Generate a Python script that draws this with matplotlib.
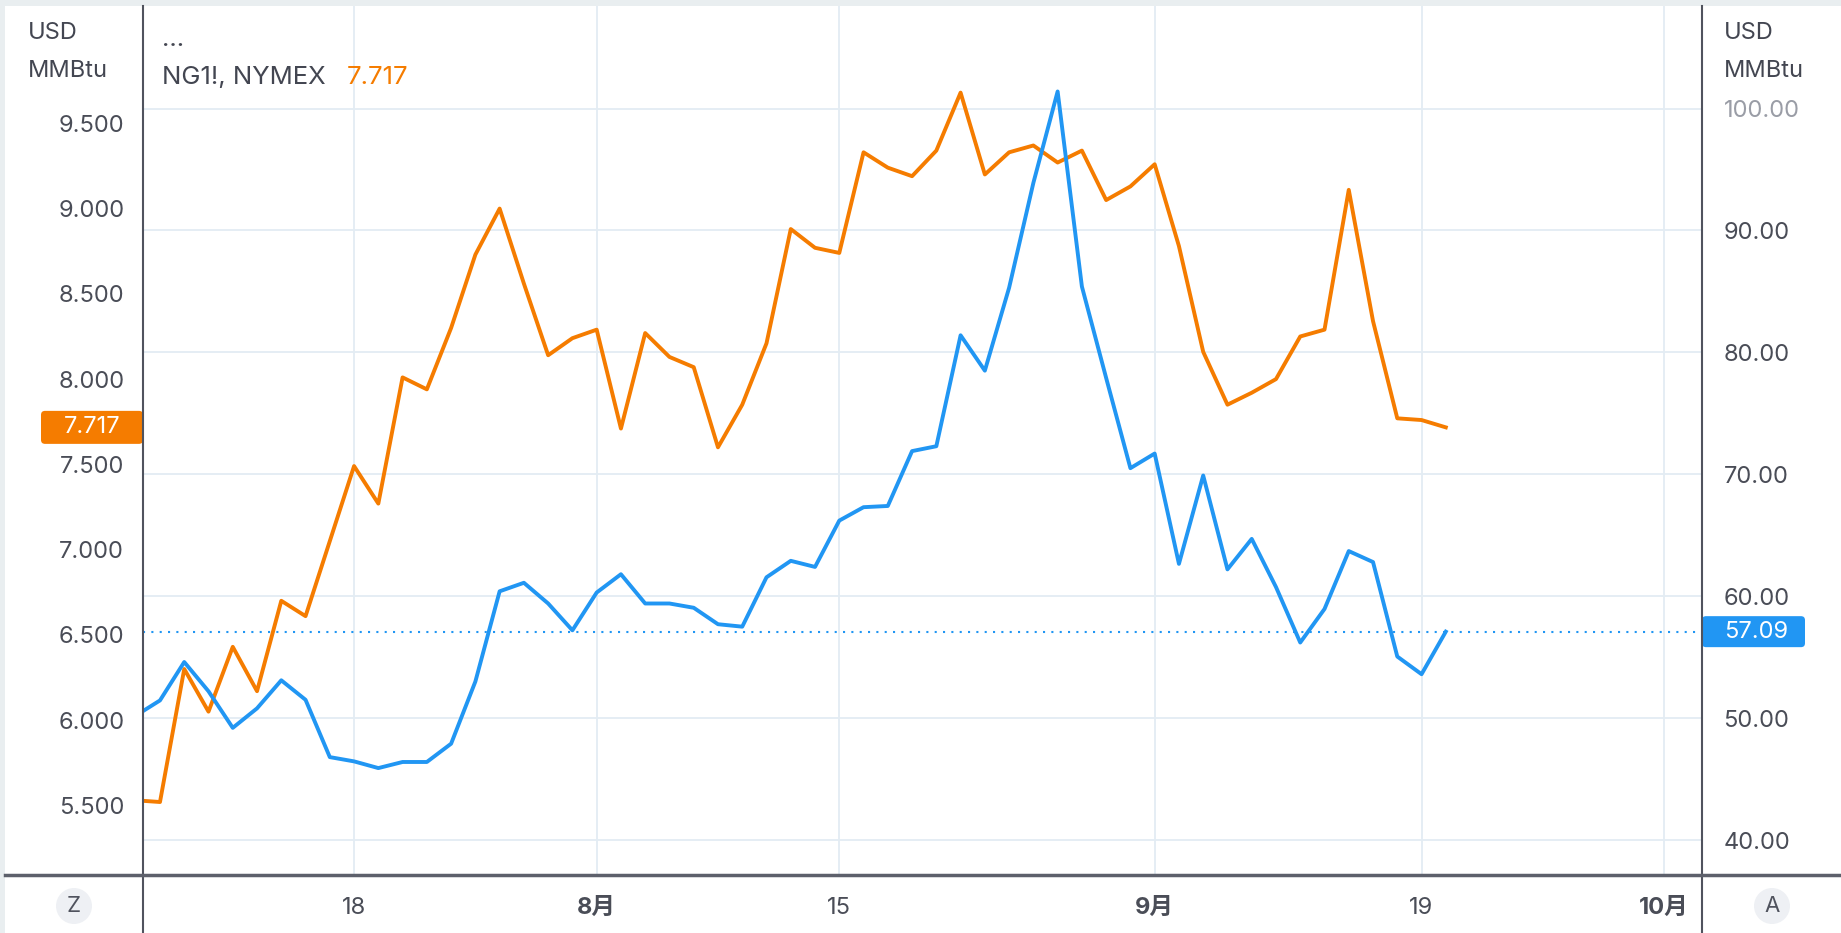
import matplotlib.pyplot as plt
import matplotlib.transforms as mtransforms
from matplotlib.patches import FancyBboxPatch, Rectangle, Circle
from matplotlib.lines import Line2D
import numpy as np
import pandas as pd

plt.rcParams['font.family'] = ['Inter', 'Noto Sans CJK SC']

# trading days (Labor Day off)
days = pd.bdate_range('2022-07-05', '2022-10-03')
days = days[days != pd.Timestamp('2022-09-05')]

# NG1!, NYMEX (left scale)
ng = [5.53, 5.52, 6.30, 6.05, 6.43, 6.17, 6.70, 6.61, 7.05,
      7.49, 7.27, 8.01, 7.94, 8.30, 8.73, 9.00, 8.56, 8.14, 8.24,
      8.29, 7.71, 8.27, 8.13, 8.07, 7.60, 7.85, 8.21, 8.88, 8.77,
      8.74, 9.33, 9.24, 9.19, 9.34, 9.68, 9.20, 9.33, 9.37, 9.27,
      9.34, 9.05, 9.13, 9.26, 8.78, 8.16, 7.85, 7.92, 8.00, 8.25,
      8.29, 9.11, 8.34, 7.77, 7.76, 7.717]
# second symbol (right scale)
cmp = [50.2, 51.45, 54.6, 52.2, 49.2, 50.8, 53.1, 51.5, 46.8,
       46.45, 45.9, 46.4, 46.4, 47.9, 53.0, 60.4, 61.1, 59.4, 57.2,
       60.3, 61.8, 59.4, 59.4, 59.05, 57.7, 57.5, 61.55, 62.9, 62.4,
       66.2, 67.3, 67.4, 71.9, 72.3, 81.4, 78.5, 85.3, 93.9, 101.4,
       85.4, 77.9, 70.5, 71.7, 62.65, 69.9, 62.2, 64.7, 60.75, 56.2,
       58.95, 63.7, 62.8, 55.05, 53.6, 57.09]

tick_dates = ['2022-07-18', '2022-08-01', '2022-08-15', '2022-09-01', '2022-09-19', '2022-10-03']
tick_labels = ['18', '8月', '15', '9月', '19', '10月']
left_ticks = np.arange(5.5, 9.51, 0.5)
right_ticks = np.arange(40, 101, 10)

ORANGE = '#f57c00'
BLUE = '#2196f3'
TXT = '#4a4d57'
GRID = '#e3ecf3'
FS = 17

W, H = 1841, 933
x = np.arange(len(ng))
tick_pos = [days.get_loc(pd.Timestamp(d)) for d in tick_dates]

fig = plt.figure(figsize=(W / 100, H / 100), dpi=100, facecolor='#e9eef0')
fig.add_artist(Rectangle((5 / W, 0), 1, (H - 6) / H, transform=fig.transFigure,
                         facecolor='white', edgecolor='none', zorder=0))

ax_l = fig.add_axes([143 / W, (H - 875) / H, (1702 - 143) / W, (875 - 6) / H])
ax_r = ax_l.twinx()

ax_l.set_xlim(0.3, 64.56)
ax_l.set_ylim(5.092, 10.188)
ax_r.set_ylim(37.13, 108.41)

# grid: vertical at date ticks, horizontal at right scale ticks
ax_l.set_xticks(tick_pos)
ax_l.set_xticklabels(tick_labels)
ax_l.grid(axis='x', color=GRID, lw=1.3)
blend = mtransforms.blended_transform_factory(ax_l.transAxes, ax_r.transData)
ax_l.hlines(right_ticks, 0, 1, transform=blend, color=GRID, lw=1.3, zorder=0.5)

ax_l.plot(x, ng, color=ORANGE, lw=2.8, zorder=2)
ax_r.plot(x, cmp, color=BLUE, lw=2.8, zorder=3)
ax_r.axhline(cmp[-1], color=BLUE, lw=1.5, ls=(0, (1, 3)))

ax_l.set_yticks(left_ticks)
ax_l.set_yticklabels(['%.3f' % v for v in left_ticks])
ax_r.set_yticks(right_ticks)
ax_r.set_yticklabels(['%.2f' % v for v in right_ticks])
ax_l.tick_params(axis='y', length=0, pad=13.5, labelsize=FS, labelcolor=TXT)
ax_r.tick_params(axis='y', length=0, pad=15.5, labelsize=FS, labelcolor=TXT)
ax_l.tick_params(axis='x', length=0, pad=15.5, labelsize=FS, labelcolor=TXT)
ax_r.get_yticklabels()[-1].set_color('#9a9da6')
for t in ax_l.get_xticklabels():
    if '月' in t.get_text():
        t.set_fontweight('bold')

for a in (ax_l, ax_r):
    for s in a.spines.values():
        s.set_visible(False)


def px(xp, yp):
    return xp / W, 1 - yp / H


# axis lines
for xp in (143, 1702):
    fig.add_artist(Line2D(*zip(px(xp, 6), px(xp, H)), transform=fig.transFigure,
                          color='#50535e', lw=1.5))
fig.add_artist(Line2D(*zip(px(5, 875), px(W, 875)), transform=fig.transFigure,
                      color='#5d606b', lw=2.5))

# unit labels
for xp in (28, 1724):
    fig.text(*px(xp, 33), 'USD', fontsize=FS, color='#434651', va='center')
    fig.text(*px(xp, 71), 'MMBtu', fontsize=FS, color='#434651', va='center')

# legend
fig.text(*px(162, 40), '...', fontsize=18.5, color='#434651', va='center')
fig.text(*px(162, 77), 'NG1!, NYMEX', fontsize=18.5, color='#434651', va='center')
fig.text(*px(347, 77), '%.3f' % ng[-1], fontsize=18.5, color=ORANGE, va='center')

# price badges
ident = mtransforms.IdentityTransform()
yc = ax_l.transData.transform((0, ng[-1]))[1]
fig.add_artist(FancyBboxPatch((41, yc - 16.5), 102, 33, boxstyle='round,pad=0,rounding_size=4',
                              transform=ident, facecolor=ORANGE, edgecolor='none'))
fig.text(92, yc, '%.3f' % ng[-1], transform=ident, ha='center', va='center',
         color='white', fontsize=FS)
yc = ax_r.transData.transform((0, cmp[-1]))[1]
fig.add_artist(FancyBboxPatch((1702, yc - 15.5), 103, 31, boxstyle='round,pad=0,rounding_size=4',
                              transform=ident, facecolor=BLUE, edgecolor='none'))
fig.text(1756, yc, '%.2f' % cmp[-1], transform=ident, ha='center', va='center',
         color='white', fontsize=FS)

# scale buttons
for xp, lab in ((74, 'Z'), (1772, 'A')):
    fig.add_artist(Circle((xp, H - 906), 18, transform=ident, facecolor='#eef0f4', edgecolor='none'))
    fig.text(xp, H - 906, lab, transform=ident, ha='center', va='center', color='#50535e', fontsize=16)

fig.savefig('out.png', dpi=100, facecolor=fig.get_facecolor())
